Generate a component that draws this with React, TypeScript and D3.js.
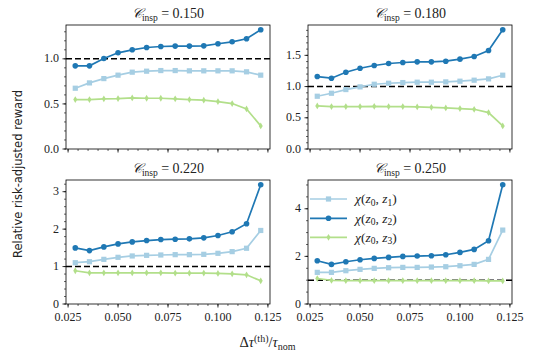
import React from 'react';
import * as d3 from 'd3';

// threshold offsets (x)
const dTau = [0.0286, 0.0357, 0.0429, 0.05, 0.0571, 0.0643, 0.0714, 0.0786, 0.0857, 0.0929, 0.1, 0.1071, 0.1143, 0.1214];

// C_insp = 0.150
const z1_150 = [0.674, 0.733, 0.781, 0.819, 0.852, 0.863, 0.87, 0.87, 0.867, 0.867, 0.867, 0.867, 0.856, 0.819];
const z2_150 = [0.922, 0.922, 1.004, 1.067, 1.1, 1.126, 1.137, 1.141, 1.141, 1.144, 1.167, 1.189, 1.222, 1.322];
const z3_150 = [0.548, 0.548, 0.556, 0.559, 0.567, 0.563, 0.563, 0.556, 0.548, 0.541, 0.526, 0.504, 0.444, 0.256];

// C_insp = 0.180
const z1_180 = [0.845, 0.893, 0.952, 0.995, 1.037, 1.053, 1.064, 1.07, 1.07, 1.075, 1.086, 1.102, 1.123, 1.182];
const z2_180 = [1.16, 1.134, 1.23, 1.294, 1.337, 1.369, 1.385, 1.396, 1.396, 1.406, 1.439, 1.481, 1.578, 1.909];
const z3_180 = [0.69, 0.679, 0.679, 0.679, 0.684, 0.679, 0.679, 0.674, 0.668, 0.658, 0.647, 0.636, 0.583, 0.369];

// C_insp = 0.220
const z1_220 = [1.103, 1.13, 1.193, 1.247, 1.283, 1.3, 1.309, 1.318, 1.318, 1.327, 1.354, 1.399, 1.489, 1.964];
const z2_220 = [1.498, 1.426, 1.525, 1.605, 1.659, 1.695, 1.722, 1.731, 1.74, 1.767, 1.83, 1.928, 2.143, 3.184];
const z3_220 = [0.888, 0.834, 0.834, 0.834, 0.834, 0.834, 0.834, 0.825, 0.825, 0.825, 0.816, 0.807, 0.78, 0.619];

// C_insp = 0.250
const z1_250 = [1.329, 1.329, 1.399, 1.455, 1.497, 1.524, 1.538, 1.538, 1.552, 1.566, 1.608, 1.664, 1.874, 3.105];
const z2_250 = [1.818, 1.664, 1.776, 1.86, 1.916, 1.958, 2.0, 2.014, 2.028, 2.07, 2.168, 2.294, 2.657, 5.007];
const z3_250 = [1.07, 0.99, 0.98, 0.98, 0.98, 0.98, 0.98, 0.98, 0.98, 0.98, 0.98, 0.98, 0.97, 0.97];

const cInsp = ['0.150', '0.180', '0.220', '0.250'];
const xTicks = [0.025, 0.05, 0.075, 0.1, 0.125];
const yTicks = [[0, 0.5, 1.0], [0, 0.5, 1.0, 1.5], [0, 1, 2, 3], [0, 2, 4]];
const yMinorStep = [0.1, 0.1, 0.2, 0.5];
const yFmt = ['.1f', '.1f', 'd', 'd'];
const seriesNames = ['1', '2', '3'];

const colors = ['#a6cee3', '#1f78b4', '#b2df8a'];

const panelData = [
  [z1_150, z2_150, z3_150],
  [z1_180, z2_180, z3_180],
  [z1_220, z2_220, z3_220],
  [z1_250, z2_250, z3_250],
];

const W = 535;
const H = 356;
const cols = [[66, 270], [308, 512]];
const rows = [[25, 149], [180, 304]];

const serif = "'Liberation Serif', serif";

function Marker({ kind, x, y, color }: { kind: number; x: number; y: number; color: string }) {
  if (kind === 0) return <rect x={x - 2.6} y={y - 2.6} width={5.2} height={5.2} fill={color} />;
  if (kind === 1) return <circle cx={x} cy={y} r={2.8} fill={color} />;
  return <path d={`M${x},${y - 3.4}L${x + 2},${y}L${x},${y + 3.4}L${x - 2},${y}Z`} fill={color} />;
}

function Panel({ idx }: { idx: number }) {
  const [x0, x1] = cols[idx % 2];
  const [y0, y1] = rows[Math.floor(idx / 2)];
  const series = panelData[idx];

  const xExt = d3.extent(dTau) as [number, number];
  const xPad = (xExt[1] - xExt[0]) * 0.05;
  const x = d3.scaleLinear().domain([xExt[0] - xPad, xExt[1] + xPad]).range([x0, x1]);

  const all = series.flat();
  const yLo = d3.min(all)!;
  const yHi = d3.max(all)!;
  const y = d3.scaleLinear().domain([0, yHi + (yHi - yLo) * 0.05]).range([y1, y0]);

  const line = d3.line<number>().x((_, i) => x(dTau[i])).y((d) => y(d));

  const xMinor = d3.range(0.025, 0.1251, 0.005).filter((v) => x(v) >= x0 - 0.5 && x(v) <= x1 + 0.5);
  const yMinor = d3.range(0, y.domain()[1], yMinorStep[idx]);
  const fmt = d3.format(yFmt[idx]);

  return (
    <g>
      {/* reference line */}
      <line x1={x0} x2={x1} y1={y(1)} y2={y(1)} stroke="#000" strokeWidth={1.5} strokeDasharray="6,3" />
      {series.map((s, si) => (
        <g key={si}>
          <path d={line(s)!} fill="none" stroke={colors[si]} strokeWidth={1.7} />
          {s.map((v, i) => (
            <Marker key={i} kind={si} x={x(dTau[i])} y={y(v)} color={colors[si]} />
          ))}
        </g>
      ))}
      <rect x={x0} y={y0} width={x1 - x0} height={y1 - y0} fill="none" stroke="#000" strokeWidth={0.8} />
      {xMinor.map((v, i) => (
        <line key={'xm' + i} x1={x(v)} x2={x(v)} y1={y1} y2={y1 + 2} stroke="#000" strokeWidth={0.6} />
      ))}
      {yMinor.map((v, i) => (
        <line key={'ym' + i} x1={x0} x2={x0 - 2} y1={y(v)} y2={y(v)} stroke="#000" strokeWidth={0.6} />
      ))}
      {xTicks.map((v) => (
        <g key={'xt' + v}>
          <line x1={x(v)} x2={x(v)} y1={y1} y2={y1 + 3.5} stroke="#000" strokeWidth={0.8} />
          {idx >= 2 && (
            <text x={x(v)} y={y1 + 16.5} textAnchor="middle" fontFamily={serif} fontSize={12} fill="#222">
              {d3.format('.3f')(v)}
            </text>
          )}
        </g>
      ))}
      {yTicks[idx].map((v) => (
        <g key={'yt' + v}>
          <line x1={x0} x2={x0 - 3.5} y1={y(v)} y2={y(v)} stroke="#000" strokeWidth={0.8} />
          <text x={x0 - 7} y={y(v)} dy="0.3em" textAnchor="end" fontFamily={serif} fontSize={12} fill="#222">
            {fmt(v)}
          </text>
        </g>
      ))}
      <text x={(x0 + x1) / 2} y={y0 - 7.5} textAnchor="middle" fontFamily={serif} fontSize={14} fill="#222">
        <tspan fontStyle="italic">𝒞</tspan>
        <tspan fontSize={9.5} dy={3}>insp</tspan>
        <tspan dy={-3}>{' = ' + cInsp[idx]}</tspan>
      </text>
    </g>
  );
}

function Legend() {
  const lx = 310;
  const rowsY = [199, 218.3, 237.3];
  return (
    <g>
      {seriesNames.map((n, i) => (
        <g key={n}>
          <line x1={lx} x2={lx + 37} y1={rowsY[i]} y2={rowsY[i]} stroke={colors[i]} strokeWidth={1.7} />
          <Marker kind={i} x={lx + 18.5} y={rowsY[i]} color={colors[i]} />
          <text x={lx + 45} y={rowsY[i]} dy="0.33em" fontFamily={serif} fontSize={13.5} fill="#222">
            <tspan fontStyle="italic">χ</tspan>(<tspan fontStyle="italic">z</tspan>
            <tspan fontSize={9.5} dy={2.5}>0</tspan>
            <tspan dy={-2.5}>, </tspan>
            <tspan fontStyle="italic">z</tspan>
            <tspan fontSize={9.5} dy={2.5}>{n}</tspan>
            <tspan dy={-2.5}>)</tspan>
          </text>
        </g>
      ))}
    </g>
  );
}

export default function App() {
  return (
    <svg width={W} height={H} style={{ position: 'absolute', left: 0, top: 0, background: '#fff' }}>
      {[0, 1, 2, 3].map((i) => (
        <Panel key={i} idx={i} />
      ))}
      <Legend />
      <text
        transform={`translate(21.5,174) rotate(-90)`}
        textAnchor="middle"
        fontFamily="'DejaVu Sans', sans-serif"
        fontSize={11.5}
        fill="#222"
      >
        Relative risk-adjusted reward
      </text>
      <text x={267.5} y={347} textAnchor="middle" fontFamily={serif} fontSize={14.5} fill="#222">
        Δ<tspan fontStyle="italic">τ</tspan>
        <tspan fontSize={10} dy={-5.5}>(th)</tspan>
        <tspan dy={5.5}>/</tspan>
        <tspan fontStyle="italic">τ</tspan>
        <tspan fontSize={10} dy={3}>nom</tspan>
      </text>
    </svg>
  );
}
